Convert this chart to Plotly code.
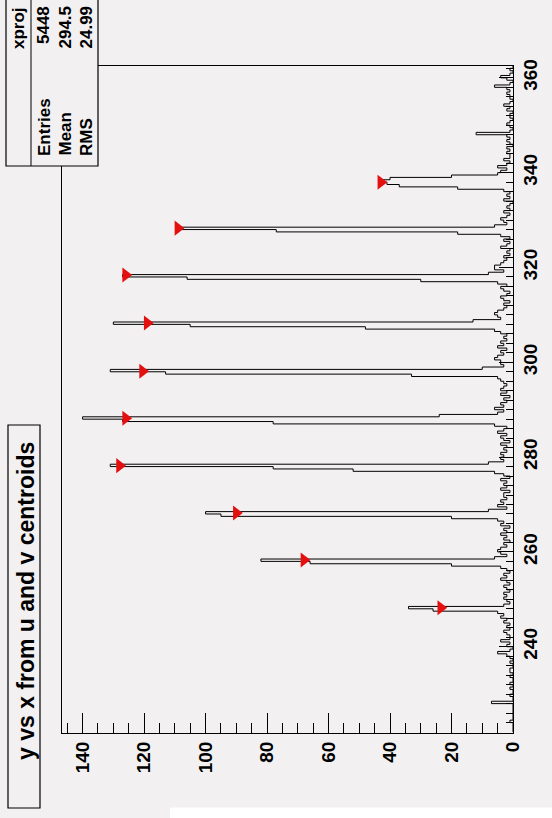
import plotly.graph_objects as go

# ---------------- data ----------------
bin_start = 222.0
bin_width = 0.5
# background counts per 0.5-wide bin, 222.0 ... 362.5
background = [
    0, 0, 0, 0, 1, 0, 0, 0, 0, 0,      # 222
    0, 0, 7, 0, 0, 1, 0, 0, 1, 0,      # 227
    1, 0, 0, 1, 0, 1, 1, 0, 0, 1,      # 232
    0, 1, 2, 5, 1, 0, 2, 1, 4, 1,      # 237
    1, 2, 3, 1, 2, 1, 3, 2, 4, 3,      # 242
    4, 5, 2, 3, 5, 4, 3, 2, 3, 1,      # 247
    2, 3, 1, 2, 4, 2, 3, 1, 2, 3,      # 252
    4, 5, 3, 6, 4, 3, 5, 4, 2, 3,      # 257
    1, 3, 2, 4, 2, 3, 1, 4, 3, 5,      # 262
    4, 6, 5, 7, 6, 5, 3, 4, 2, 3,      # 267
    3, 1, 4, 2, 3, 2, 4, 1, 3, 4,      # 272
    3, 5, 4, 6, 5, 4, 3, 4, 2, 3,      # 277
    2, 4, 1, 3, 4, 2, 5, 3, 2, 4,      # 282
    4, 5, 6, 5, 5, 4, 6, 3, 4, 2,      # 287
    3, 1, 4, 2, 4, 3, 2, 3, 4, 3,      # 292
    5, 4, 6, 5, 4, 3, 4, 6, 5, 3,      # 297
    4, 2, 5, 3, 4, 2, 3, 2, 4, 3,      # 302
    4, 5, 4, 6, 5, 4, 6, 5, 3, 2,      # 307
    3, 1, 3, 4, 2, 1, 3, 4, 2, 5,      # 312
    4, 5, 3, 6, 5, 7, 6, 4, 3, 2,      # 317
    3, 1, 2, 1, 4, 2, 1, 3, 1, 2,      # 322
    3, 4, 5, 4, 5, 3, 4, 2, 1, 3,      # 327
    1, 2, 1, 0, 3, 1, 2, 1, 3, 4,      # 332
    3, 5, 4, 5, 4, 3, 4, 2, 5, 2,      # 337
    1, 3, 1, 1, 2, 1, 2, 0, 1, 2,      # 342
    1, 2, 12, 1, 0, 1, 2, 1, 0, 1,     # 347
    1, 0, 2, 1, 3, 1, 0, 1, 1, 2,      # 352
    1, 2, 6, 1, 0, 2, 4, 1, 0, 1,      # 357
    0, 0,                              # 362
]
# peaks: bin holding the maximum, and counts of bins (max-3 .. max+3) in 0.5 steps
peak_bins = [248.0, 258.0, 268.0, 278.0, 288.0, 298.0, 308.0, 318.0, 328.0, 338.0]
peak_profiles = [
    [3, 5, 26, 34, 3, 1, 2],
    [4, 20, 66, 82, 6, 2, 4],
    [5, 20, 95, 100, 8, 2, 5],
    [6, 52, 78, 131, 8, 3, 4],
    [6, 78, 127, 140, 24, 5, 3],
    [5, 33, 113, 131, 10, 3, 4],
    [6, 48, 105, 130, 13, 4, 5],
    [5, 30, 106, 127, 8, 3, 6],
    [4, 18, 77, 109, 6, 2, 3],
    [18, 37, 41, 43, 40, 20, 5],
]
# peak-search markers
marker_pos = [248.2, 258.3, 268.2, 278.2, 288.2, 298.1, 308.3, 318.4, 328.3, 338.0]
marker_height = [23.5, 68, 90, 128, 126, 120.5, 119, 126, 109, 43]

title_text = "y vs x from u and v centroids"
stats_name = "xproj"
stats_labels = ["Entries", "Mean", "RMS"]
stats_values = ["5448", "294.5", "24.99"]

# ---------------- build histogram ----------------
counts = list(background)
for pb, prof in zip(peak_bins, peak_profiles):
    i0 = int(round((pb - bin_start) / bin_width))
    half = (len(prof) - 1) // 2
    for k, c in enumerate(prof):
        j = i0 - half + k
        if 0 <= j < len(counts):
            counts[j] = c

hx, hy = [], []
for i, c in enumerate(counts):
    lo = bin_start + i * bin_width
    hi = lo + bin_width
    hx += [c, c]
    hy += [lo, hi]

BG = "#f2f0f1"
FONT = "Liberation Sans, Arial, Helvetica, sans-serif"

fig = go.Figure()
fig.add_trace(go.Scatter(x=hx, y=hy, mode="lines",
                         line=dict(color="black", width=1), hoverinfo="skip"))
fig.add_trace(go.Scatter(x=marker_height, y=marker_pos, mode="markers",
                         marker=dict(symbol="triangle-right", size=13, color="#e41010",
                                     line=dict(width=0))))

L, R, T, B = 62, 513, 66, 733
W, H = R - L, B - T
def px(x):
    return (x - L) / W
def py(y):
    return (B - y) / H

fig.update_layout(
    width=552, height=818,
    margin=dict(l=L, r=552 - R, t=T, b=818 - B),
    paper_bgcolor=BG, plot_bgcolor=BG,
    showlegend=False,
    font=dict(family=FONT, color="black", size=19, weight="bold"),
    xaxis=dict(range=[146.7, 0], showgrid=False, zeroline=False,
               showline=True, linecolor="black", linewidth=1, mirror=True,
               ticks="inside", ticklen=20, tickwidth=1, tickcolor="black",
               dtick=20, tick0=0, tickangle=-90,
               tickfont=dict(family=FONT, size=19, weight="bold"),
               minor=dict(ticks="inside", ticklen=10, dtick=5, tick0=0,
                          tickcolor="black", showgrid=False)),
    yaxis=dict(range=[221.8, 362.5], side="right", showgrid=False, zeroline=False,
               showline=True, linecolor="black", linewidth=1, mirror=True,
               ticks="inside", ticklen=14, tickwidth=1, tickcolor="black",
               dtick=20, tick0=0, tickangle=-90,
               tickfont=dict(family=FONT, size=19, weight="bold"),
               minor=dict(ticks="inside", ticklen=7, dtick=2, tick0=0,
                          tickcolor="black", showgrid=False)),
)

shapes = []
# title box
shapes.append(dict(type="rect", xref="paper", yref="paper",
                   x0=px(8), x1=px(40), y0=py(808), y1=py(425),
                   line=dict(color="black", width=1.2), fillcolor=BG, layer="above"))
# stats box
shapes.append(dict(type="rect", xref="paper", yref="paper",
                   x0=px(6), x1=px(98), y0=py(166), y1=py(-3),
                   line=dict(color="black", width=1.2), fillcolor=BG, layer="above"))
shapes.append(dict(type="line", xref="paper", yref="paper",
                   x0=px(31), x1=px(31), y0=py(166), y1=py(-3),
                   line=dict(color="black", width=1)))
# white strip at bottom
shapes.append(dict(type="rect", xref="paper", yref="paper",
                   x0=px(170), x1=px(560), y0=py(830), y1=py(807.5),
                   line=dict(width=0), fillcolor="white", layer="above"))
fig.update_layout(shapes=shapes)

ann = []
ann.append(dict(text=title_text, xref="paper", yref="paper", x=px(26), y=py(601),
                xanchor="center", yanchor="middle", textangle=-90, showarrow=False,
                font=dict(family=FONT, size=23, weight="bold", color="black")))
ann.append(dict(text=stats_name, xref="paper", yref="paper", x=px(19), y=py(28),
                xanchor="center", yanchor="middle", textangle=-90, showarrow=False,
                font=dict(family=FONT, size=17, weight="bold", color="black")))
cols = [44, 65, 86]
for c, lab, val in zip(cols, stats_labels, stats_values):
    ann.append(dict(text=lab, xref="paper", yref="paper", x=px(c), y=py(158),
                    xanchor="center", yanchor="bottom", textangle=-90, showarrow=False,
                    font=dict(family=FONT, size=17, weight="bold", color="black")))
    ann.append(dict(text=val, xref="paper", yref="paper", x=px(c), y=py(4),
                    xanchor="center", yanchor="top", textangle=-90, showarrow=False,
                    font=dict(family=FONT, size=17, weight="bold", color="black")))
fig.update_layout(annotations=ann)

fig.write_html("out.html")
